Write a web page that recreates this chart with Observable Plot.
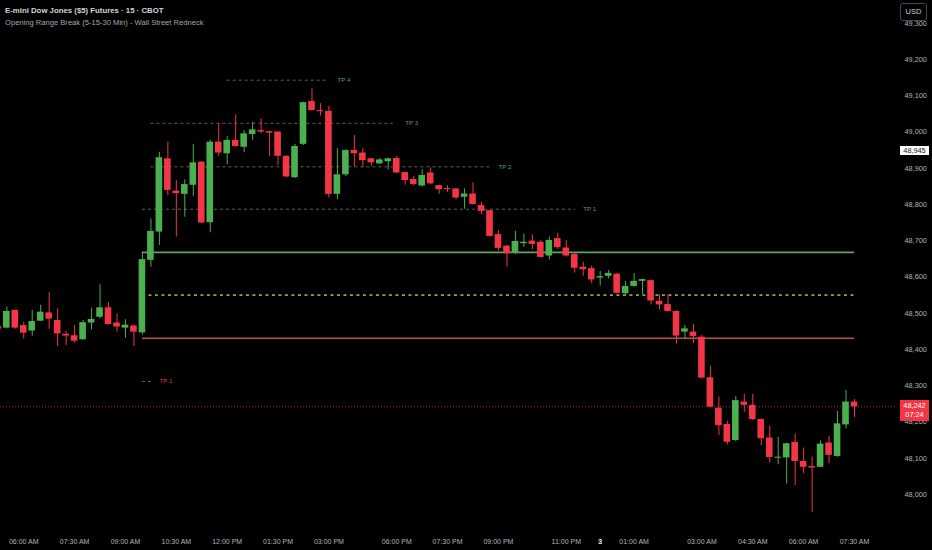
<!DOCTYPE html>
<html>
<head>
<meta charset="utf-8">
<script src="https://cdn.jsdelivr.net/npm/d3@7"></script>
<script src="https://cdn.jsdelivr.net/npm/@observablehq/plot@0.6"></script>
<style>
  html, body { margin: 0; padding: 0; background: #000; }
  #wrap { position: relative; width: 932px; height: 550px; background: #000; overflow: hidden;
          font-family: "Liberation Sans", Arial, sans-serif; }
  #wrap svg { position: absolute; left: 0; top: 0; }
  .t1 { position: absolute; left: 5px; top: 6px; color: #d1d4dc; font-size: 7.8px; font-weight: 600; white-space: nowrap; }
  .t2 { position: absolute; left: 5px; top: 17.5px; color: #a3a6af; font-size: 7.6px; white-space: nowrap; }
  .usd { position: absolute; left: 900px; top: 3px; width: 27px; height: 18px; box-sizing: border-box;
         border: 1px solid #434651; border-radius: 3px; background: #000; color: #d1d4dc;
         font-size: 7.5px; line-height: 16px; text-align: center; }
  .plbl { position: absolute; left: 900px; width: 29px; box-sizing: border-box; font-size: 7.3px;
          text-align: center; line-height: 9px; }
</style>
</head>
<body>
<div id="wrap">
  <div class="t1">E-mini Dow Jones ($5) Futures · 15 · CBOT</div>
  <div class="t2">Opening Range Break (5-15-30 Min) - Wall Street Redneck</div>
</div>
<script>
// ---- Candles (15-min bars, bar index -1 .. 100) ----
const firstBar = -1;
const opens = [48463,48459,48508,48466,48451,48478,48501,48480,48442,48438,48427,48473,48489,48515,48473,48459,48465,
  48446,48646,48724,48926,48837,48828,48853,48917,48750,48972,48940,48977,48958,48993,49004,49001,49000,
  48933,48874,48966,49084,49059,49057,48828,48882,48949,48942,48926,48912,48918,
  48927,48888,48869,48851,48887,48852,48844,48843,48820,48829,48797,48783,48717,48685,48666,48692,48699,48696,48658,48706,48680,
  48662,48627,48623,48597,48602,48608,48554,48574,48588,48590,48533,48524,48505,48448,48448,
  48434,48322,48238,48193,48149,48255,48246,48207,48156,48100,48101,48144,48091,48077,48075,48142,48105,48192,48255];
const highs = [48465,48517,48509,48475,48508,48522,48557,48512,48450,48466,48480,48514,48579,48529,48498,48482,48466,
  48668,48760,48944,48972,48866,48868,48966,48917,48977,49023,48988,49047,49004,49027,49036,49002,49000,
  48934,48966,49082,49119,49078,49070,48954,48951,48990,48954,48927,48927,48928,
  48933,48890,48877,48896,48901,48853,48852,48845,48843,48860,48806,48783,48728,48688,48726,48719,48716,48701,48710,48721,48701,
  48665,48641,48630,48615,48618,48609,48588,48609,48594,48592,48551,48551,48507,48467,48469,
  48439,48354,48269,48202,48270,48276,48276,48208,48189,48158,48141,48167,48128,48103,48148,48160,48229,48287,48262];
const lows = [48454,48457,48456,48429,48437,48478,48456,48408,48411,48418,48425,48454,48485,48467,48448,48431,48408,
  48440,48627,48687,48824,48710,48765,48822,48747,48722,48933,48910,48958,48943,48977,48995,48933,48908,
  48874,48872,48963,49058,49044,48818,48813,48877,48903,48903,48905,48910,48896,
  48885,48853,48852,48848,48855,48828,48833,48813,48787,48798,48772,48710,48671,48627,48662,48682,48675,48652,48647,48676,48655,
  48611,48602,48581,48575,48595,48553,48549,48572,48551,48523,48509,48503,48415,48428,48416,
  48319,48239,48163,48137,48146,48227,48204,48135,48087,48082,48029,48025,48057,47951,48074,48085,48103,48181,48212];
const closes = [48456,48505,48459,48445,48477,48503,48484,48443,48437,48423,48474,48483,48515,48469,48462,48467,48448,
  48648,48726,48929,48839,48830,48855,48915,48749,48972,48942,48977,48960,48995,49006,49000,48997,48933,
  48876,48960,49081,49059,49056,48828,48882,48949,48940,48921,48915,48923,48926,
  48887,48866,48855,48880,48857,48841,48841,48818,48829,48800,48781,48712,48679,48664,48698,48696,48690,48654,48701,48681,48658,
  48624,48620,48592,48601,48610,48555,48574,48588,48593,48534,48523,48505,48437,48457,48436,
  48321,48241,48190,48144,48259,48246,48207,48154,48102,48103,48140,48091,48075,48073,48139,48108,48195,48255,48242];

// ---- Opening range & targets ----
const rangeStartBar = 16, rangeEndBar = 100;
const rangeHigh = 48668, rangeMid = 48550, rangeLow = 48431;
const tpNames  = ["TP 1", "TP 2", "TP 3", "TP 4", "TP 1"];
const tpLevels = [48787, 48904, 49024, 49143, 48312];
const tpStart  = [16, 17, 17, 26, 16];
const tpEnd    = [67.1, 57.3, 45.6, 37.8, 17.3];
const tpLabelBar = [68, 58, 47, 39, 18];
const tpSide   = ["up", "up", "up", "up", "down"];

// ---- Price info ----
const lastPrice = 48242, countdown = "07:24";
const markPrice = 48945;

// ---- Axis ticks ----
const yTicks = [48000, 48100, 48200, 48300, 48400, 48500, 48600, 48700, 48800, 48900, 49000, 49100, 49200, 49300];
const timeTickBars   = [2, 8, 14, 20, 26, 32, 38, 46, 52, 58, 66, 74, 82, 88, 94, 100];
const timeTickLabels = ["06:00 AM","07:30 AM","09:00 AM","10:30 AM","12:00 PM","01:30 PM","03:00 PM","06:00 PM",
                        "07:30 PM","09:00 PM","11:00 PM","01:00 AM","03:00 AM","04:30 AM","06:00 AM","07:30 AM"];
const dayTickBars = [70], dayTickLabels = ["3"];

// build tables
const bars = opens.map((o, i) => ({
  bar: firstBar + i, open: o, high: highs[i], low: lows[i], close: closes[i], up: closes[i] >= o
}));
const tps = tpNames.map((n, i) => ({name: n, level: tpLevels[i], x1: tpStart[i], x2: tpEnd[i], lx: tpLabelBar[i], side: tpSide[i]}));
const timeLabel = new Map(timeTickBars.map((b, i) => [b, timeTickLabels[i]]));
const dayLabel = new Map(dayTickBars.map((b, i) => [b, dayTickLabels[i]]));

const GREEN = "#4caf50", RED = "#f23645";
const W = 932, H = 550, mR = 37, mB = 20;
const barStep = 8.477, bar0X = 6.3;
const halfBody = 0.39;

const chart = Plot.plot({
  width: W, height: H,
  marginLeft: 0, marginTop: 0, marginRight: mR, marginBottom: mB,
  style: {background: "#000", color: "#b2b5be", fontFamily: "'Liberation Sans', Arial, sans-serif", fontSize: "7.3px"},
  x: {type: "linear", domain: [-bar0X / barStep, (W - mR - bar0X) / barStep], axis: null},
  y: {domain: [47900.7, 49362.8], axis: null},
  marks: [
    // current price dotted line
    Plot.ruleY([lastPrice], {stroke: RED, strokeWidth: 1, strokeDasharray: "1,2", strokeOpacity: 0.75}),
    // TP dashed lines
    Plot.ruleY(tps, {y: "level", x1: "x1", x2: "x2", stroke: "#5d606b", strokeWidth: 1, strokeDasharray: "3,3"}),
    Plot.text(tps, {x: "lx", y: "level", text: "name", textAnchor: "start", fontSize: 6.2,
      fill: d => d.side === "up" ? "#57a05a" : "#d04552"}),
    // opening range lines
    Plot.ruleY([rangeHigh], {x1: rangeStartBar, x2: rangeEndBar, stroke: "#5fa562", strokeWidth: 1.6}),
    Plot.ruleY([rangeMid], {x1: rangeStartBar, x2: rangeEndBar, stroke: "#93a635", strokeWidth: 1.6, strokeDasharray: "3,3.5"}),
    Plot.ruleY([rangeLow], {x1: rangeStartBar, x2: rangeEndBar, stroke: "#c04a55", strokeWidth: 1.6}),
    // wicks
    Plot.ruleX(bars, {x: "bar", y1: "low", y2: "high", stroke: d => d.up ? GREEN : RED, strokeWidth: 1, clip: true}),
    // bodies
    Plot.rect(bars, {x1: d => d.bar - halfBody, x2: d => d.bar + halfBody, y1: "open", y2: "close",
      fill: d => d.up ? GREEN : RED, clip: true}),
    // axes
    Plot.axisY(yTicks, {anchor: "right", tickSize: 0, tickPadding: 9, textAnchor: "start",
      tickFormat: d3.format(","), fill: "#b2b5be"}),
    Plot.axisX(timeTickBars, {anchor: "bottom", tickSize: 0, tickPadding: 8.5, fontSize: 7,
      tickFormat: d => timeLabel.get(d), fill: "#b2b5be"}),
    Plot.axisX(dayTickBars, {anchor: "bottom", tickSize: 0, tickPadding: 8.5, fontSize: 7.5, fontWeight: "bold",
      tickFormat: d => dayLabel.get(d), fill: "#e8e9ee"})
  ]
});

const wrap = document.getElementById("wrap");
wrap.insertBefore(chart, wrap.firstChild);

const ys = chart.scale("y");
// USD button
const usd = document.createElement("div");
usd.className = "usd"; usd.textContent = "USD";
wrap.appendChild(usd);
// mark price label (white)
const mk = document.createElement("div");
mk.className = "plbl";
mk.style.top = (ys.apply(markPrice) - 5) + "px";
mk.style.background = "#ffffff"; mk.style.color = "#131722";
mk.textContent = d3.format(",")(markPrice);
wrap.appendChild(mk);
// last price label (red)
const lp = document.createElement("div");
lp.className = "plbl";
lp.style.top = (ys.apply(lastPrice) - 6.5) + "px";
lp.style.height = "21px";
lp.style.paddingTop = "1.5px";
lp.style.background = RED; lp.style.color = "#ffffff";
lp.innerHTML = d3.format(",")(lastPrice) + "<br>" + countdown;
wrap.appendChild(lp);
</script>
</body>
</html>
